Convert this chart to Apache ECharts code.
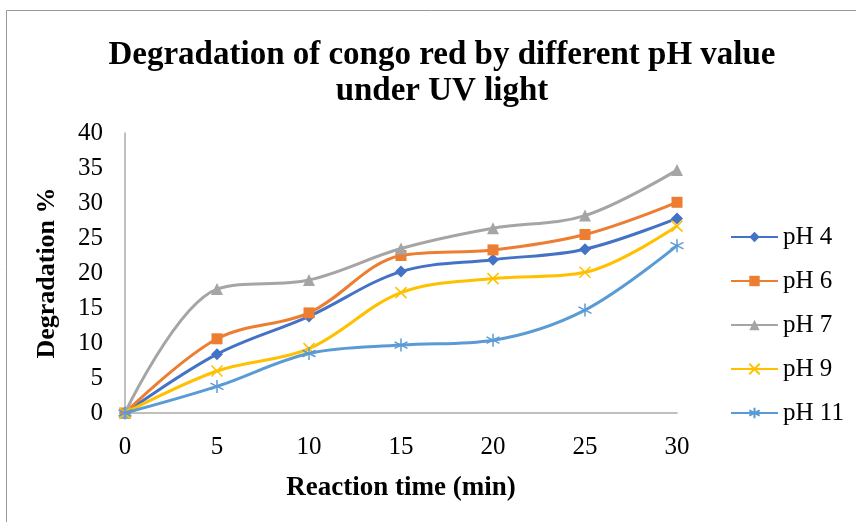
<!DOCTYPE html>
<html>
<head>
<meta charset="utf-8">
<script src="https://cdn.jsdelivr.net/npm/echarts@6/dist/echarts.min.js"></script>
<style>
  html, body { margin: 0; padding: 0; background: #fff; }
  #main { width: 856px; height: 522px; }
</style>
</head>
<body>
<div id="main"></div>
<script>
// reaction time (min)
var times = [0, 5, 10, 15, 20, 25, 30];
var xTicks = [0, 5, 10, 15, 20, 25, 30];
var yTicks = [0, 5, 10, 15, 20, 25, 30, 35, 40];

// degradation % per pH
var names = ['pH 4', 'pH 6', 'pH 7', 'pH 9', 'pH 11'];
var ph4 = [0, 8.4, 13.8, 20.2, 21.9, 23.4, 27.8];
var ph6 = [0, 10.6, 14.3, 22.5, 23.3, 25.5, 30.1];
var ph7 = [0, 17.7, 19.0, 23.5, 26.4, 28.2, 34.7];
var ph9 = [0, 6.0, 9.2, 17.2, 19.2, 20.1, 26.7];
var ph11 = [0, 3.8, 8.5, 9.7, 10.4, 14.7, 23.9];

var colors = ['#4472C4', '#ED7D31', '#A5A5A5', '#FFC000', '#5B9BD5'];
var symbols = [
  'diamond',
  'rect',
  'triangle',
  'path://M0,0L10,10M10,0L0,10',
  'path://M5,0L5,10M0,2.5L10,7.5M0,7.5L10,2.5'
];
var sizes = [12, 11, 12, 11, 13];

var font = 'Liberation Serif';

function pairs(vals) {
  return times.map(function (t, i) { return [t, vals[i]]; });
}

//初始化 chart
var chart = echarts.init(document.getElementById('main'), null, { renderer: 'canvas' });

var series = [ph4, ph6, ph7, ph9, ph11].map(function (vals, i) {
  var open = i >= 3;
  return {
    name: names[i],
    type: 'line',
    smooth: 0.35,
    data: pairs(vals),
    symbol: symbols[i],
    symbolSize: sizes[i],
    showAllSymbol: true,
    lineStyle: { color: colors[i], width: 3 },
    itemStyle: {
      color: open ? 'rgba(0,0,0,0)' : colors[i],
      borderColor: colors[i],
      borderWidth: open ? 1.5 : 0
    },
    emphasis: { disabled: true },
    z: 2 + i
  };
});

var option = {
  animation: false,
  backgroundColor: '#fff',
  title: {
    text: 'Degradation of congo red by different pH value\nunder UV light',
    left: 437,
    top: 32,
    textAlign: 'center',
    textStyle: {
      fontFamily: font,
      fontWeight: 'bold',
      fontSize: 33,
      lineHeight: 36,
      color: '#000'
    }
  },
  graphic: [{
    type: 'rect',
    shape: { x: 6.5, y: 10.5, width: 900, height: 600 },
    style: { fill: 'none', stroke: '#9a9a9a', lineWidth: 1 },
    silent: true
  }],
  legend: {
    orient: 'vertical',
    left: 725,
    top: 219,
    itemWidth: 47,
    itemHeight: 13,
    itemGap: 18,
    data: names,
    textStyle: { fontFamily: font, fontSize: 25, color: '#000', lineHeight: 26 }
  },
  grid: { left: 125, top: 133, width: 552, height: 280 },
  xAxis: {
    type: 'value',
    min: xTicks[0],
    max: xTicks[xTicks.length - 1],
    interval: 5,
    name: 'Reaction time (min)',
    nameLocation: 'middle',
    nameGap: 62,
    nameTextStyle: { fontFamily: font, fontWeight: 'bold', fontSize: 27, color: '#000' },
    axisLine: { show: true, lineStyle: { color: '#ababab', width: 1.5 } },
    axisTick: { show: false },
    splitLine: { show: false },
    axisLabel: { fontFamily: font, fontSize: 25, color: '#000', margin: 22 }
  },
  yAxis: {
    type: 'value',
    min: yTicks[0],
    max: yTicks[yTicks.length - 1],
    interval: 5,
    name: 'Degradation %',
    nameLocation: 'middle',
    nameGap: 65,
    nameTextStyle: { fontFamily: font, fontWeight: 'bold', fontSize: 26, color: '#000' },
    axisLine: { show: true, lineStyle: { color: '#ababab', width: 1.5 } },
    axisTick: { show: false },
    splitLine: { show: false },
    axisLabel: { fontFamily: font, fontSize: 25, color: '#000', margin: 22 }
  },
  series: series
};

chart.setOption(option);
</script>
</body>
</html>
